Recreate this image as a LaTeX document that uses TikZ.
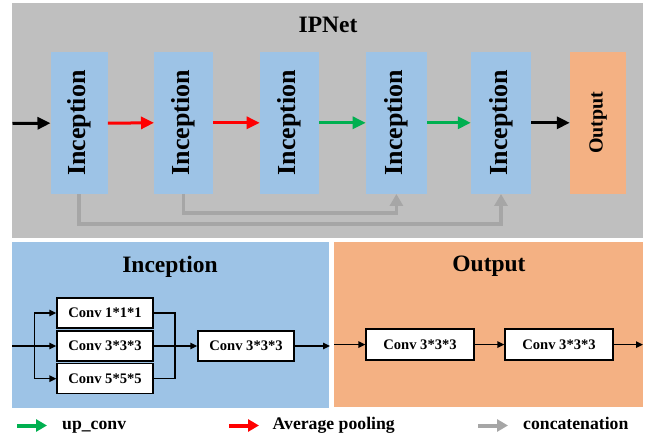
\documentclass[tikz,border=0pt]{standalone}
\usepackage{fontspec}
\setmainfont{Liberation Serif}
\usetikzlibrary{arrows.meta}
\definecolor{panelgray}{HTML}{BFBFBF}
\definecolor{incblue}{HTML}{9DC3E6}
\definecolor{outorange}{HTML}{F4B183}
\definecolor{concatgray}{HTML}{A6A6A6}
\definecolor{poolred}{HTML}{FF0000}
\definecolor{upgreen}{HTML}{00B050}
\tikzset{
  incblk/.style={fill=incblue, draw=none, minimum width=57pt, minimum height=142pt, inner sep=0pt},
  outblk/.style={fill=outorange, draw=none, minimum width=56pt, minimum height=142pt, inner sep=0pt},
  vlabel/.style={rotate=90, font=\fontsize{26}{30}\selectfont\bfseries, inner sep=0pt},
  vlabelsmall/.style={rotate=90, font=\fontsize{20}{24}\selectfont\bfseries, inner sep=0pt},
  title/.style={font=\fontsize{23.5}{28}\selectfont\bfseries, inner sep=0pt, anchor=base},
  convbox/.style={draw=black, line width=1.4pt, fill=white, minimum width=96pt, minimum height=30pt, inner sep=0pt, font=\fontsize{14.6}{17}\selectfont\bfseries},
  convwide/.style={convbox, minimum width=108pt, minimum height=31pt},
  bigarrow/.style={line width=3pt, -{Triangle[length=13pt, width=12pt]}},
  catarrow/.style={concatgray, line width=3.5pt, -{Triangle[length=12pt, width=13pt]}},
  thinarrow/.style={line width=1.4pt, -{Triangle[length=7pt, width=6.5pt]}},
  thinline/.style={line width=1.4pt},
  legarrow/.style={line width=4pt, -{Triangle[length=11pt, width=12pt]}},
  legtext/.style={font=\fontsize{17.7}{21}\selectfont\bfseries, anchor=base west, inner sep=0pt},
}
\begin{document}
\begin{tikzpicture}[x=1pt, y=-1pt]
  \useasboundingbox (0,0) rectangle (652,438);
  \fill[white] (0,0) rectangle (652,438);

  % ---------- overall network ----------
  \fill[panelgray] (11.7,3.5) rectangle (642.7,237.5);
  \node[title] (ipnet) at (328,33) {IPNet};

  \node[incblk] (b1) at (79.2,123.2) {};
  \node[incblk, minimum width=59pt] (b2) at (183.7,122.8) {};
  \node[incblk, minimum width=59pt] (b3) at (289.4,122.8) {};
  \node[incblk, minimum width=61pt] (b4) at (396.4,122.8) {};
  \node[incblk, minimum width=60pt] (b5) at (501,122.8) {};
  \node[outblk] (out) at (598,122.8) {};

  \foreach \b in {b1,b2,b3,b4,b5} \node[vlabel] at (\b) {Inception};
  \node[vlabelsmall] at (out) {Output};

  \coordinate (in) at (12.5,123.5);
  \draw[bigarrow, black] (in) -- (b1.west);
  \draw[bigarrow, poolred] (b1.east) -- (b2.west);
  \draw[bigarrow, poolred] (b2.east) -- (b3.west);
  \draw[bigarrow, upgreen] (b3.east) -- (b4.west);
  \draw[bigarrow, upgreen] (b4.east) -- (b5.west);
  \draw[bigarrow, black] (b5.east) -- (out.west);

  % skip connections (concatenation)
  \draw[catarrow] (b1.south) -- ++(0,29.5) -| (b5.south);
  \draw[catarrow] (b2.south) -- ++(0,19) -| (b4.south);

  % ---------- Inception module ----------
  \fill[incblue] (11.7,242.3) rectangle (329.3,408.3);
  \node[title] (inctitle) at (170,272.3) {Inception};

  \node[convbox] (c1) at (105,313) {Conv 1*1*1};
  \node[convbox] (c2) at (105,346) {Conv 3*3*3};
  \node[convbox] (c3) at (105,378.7) {Conv 5*5*5};
  \node[convbox] (c4) at (246,346) {Conv 3*3*3};

  \coordinate (incin) at (12,346);
  \coordinate (split) at (34.3,346);
  \coordinate (merge) at (175,346);
  \coordinate (incout) at (330,346);

  \draw[thinline] (incin) -- (split);
  \draw[thinarrow] (split) -- (c2.west);
  \draw[thinarrow] (split) |- (c1.west);
  \draw[thinarrow] (split) |- (c3.west);
  \draw[thinline] (c1.east) -| (merge);
  \draw[thinline] (c3.east) -| (merge);
  \draw[thinline] (c2.east) -- (merge);
  \draw[thinarrow] (merge) -- (c4.west);
  \draw[thinarrow] (c4.east) -- (incout);

  % ---------- Output module ----------
  \fill[outorange] (334,242.3) rectangle (643,406.8);
  \node[title] (outtitle) at (489,271) {Output};

  \node[convwide] (o1) at (420,344.6) {Conv 3*3*3};
  \node[convwide] (o2) at (559,344.6) {Conv 3*3*3};

  \coordinate (outin) at (334,344.6);
  \coordinate (outend) at (643,344.6);
  \draw[thinarrow] (outin) -- (o1.west);
  \draw[thinarrow] (o1.east) -- (o2.west);
  \draw[thinarrow] (o2.east) -- (outend);

  % ---------- legend ----------
  \coordinate (lg1) at (17,425.5);  \coordinate (lg1e) at (47,425.5);
  \coordinate (lg2) at (229,425.5); \coordinate (lg2e) at (259,425.5);
  \coordinate (lg3) at (478,425.5); \coordinate (lg3e) at (508,425.5);
  \draw[legarrow, upgreen] (lg1) -- (lg1e);
  \node[legtext] (t1) at (62,429) {up\_conv};
  \draw[legarrow, poolred] (lg2) -- (lg2e);
  \node[legtext] (t2) at (272.5,429) {Average pooling};
  \draw[legarrow, concatgray] (lg3) -- (lg3e);
  \node[legtext] (t3) at (523,429) {concatenation};
\end{tikzpicture}
\end{document}
